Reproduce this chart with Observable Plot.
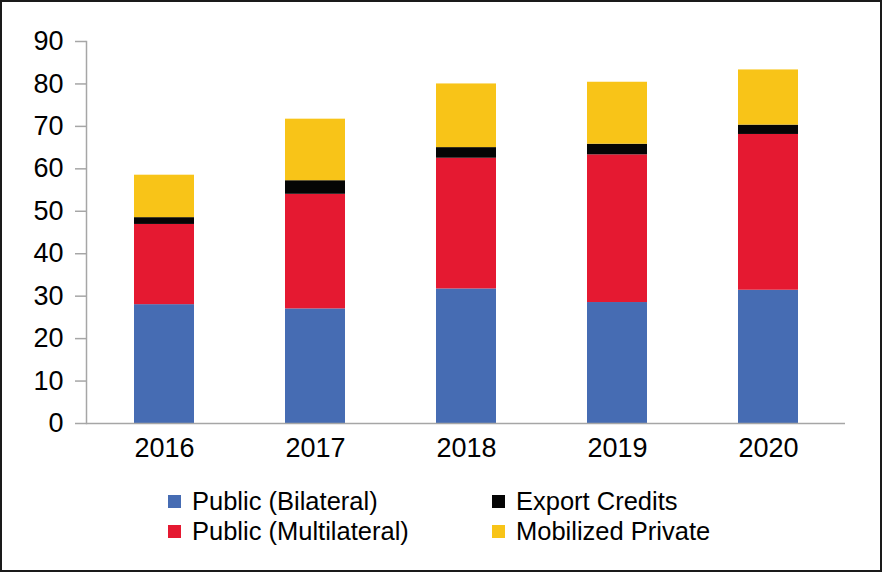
<!DOCTYPE html>
<html>
<head>
<meta charset="utf-8">
<script src="https://cdn.jsdelivr.net/npm/d3@7"></script>
<script src="https://cdn.jsdelivr.net/npm/@observablehq/plot@0.6"></script>
<style>
  html, body { margin: 0; padding: 0; background: #fff; }
  body { width: 886px; height: 577px; position: relative; overflow: hidden; font-family: "Liberation Sans", Arial, sans-serif; }
  #frame { position: absolute; left: 0; top: 0; width: 878px; height: 568px; border: 2px solid #1a1a1a; pointer-events: none; }
  #chart { position: absolute; left: 0; top: 0; }
  #legend { position: absolute; left: 168px; top: 486px; display: grid; grid-template-columns: 324px auto; row-gap: 0; font-size: 25.5px; line-height: 30px; color: #000; }
  .item { display: flex; align-items: center; white-space: nowrap; }
  .sw { width: 13px; height: 13px; margin-right: 11px; flex: none; }
</style>
</head>
<body>
<div id="chart"></div>
<div id="legend"></div>
<div id="frame"></div>
<script>
const years = ["2016", "2017", "2018", "2019", "2020"];
const seriesNames = ["Public (Bilateral)", "Public (Multilateral)", "Export Credits", "Mobilized Private"];
const bilateral    = [28.0, 27.0, 31.7, 28.5, 31.4];
const multilateral = [18.9, 27.0, 30.8, 34.8, 36.7];
const exportCredits = [1.6, 3.2, 2.5, 2.5, 2.2];
const mobilizedPrivate = [10.0, 14.5, 15.0, 14.6, 13.0];
const colors = ["#466cb3", "#e51931", "#050505", "#f8c418"];
const yTicks = [0, 10, 20, 30, 40, 50, 60, 70, 80, 90];
const legendOrder = [0, 2, 1, 3];

const seriesValues = [bilateral, multilateral, exportCredits, mobilizedPrivate];
const data = [];
seriesNames.forEach((s, si) => {
  years.forEach((y, yi) => data.push({year: y, series: s, value: seriesValues[si][yi]}));
});

const chart = Plot.plot({
  width: 886,
  height: 465,
  marginLeft: 86,
  marginRight: 41,
  marginTop: 41,
  marginBottom: 42,
  style: { fontFamily: "Liberation Sans, Arial, sans-serif", fontSize: "27px", color: "#000", background: "transparent" },
  x: { domain: years, paddingInner: 0.604, paddingOuter: 0.302, align: 0.5, label: null },
  y: { domain: [0, 90], label: null },
  color: { domain: seriesNames, range: colors },
  marks: [
    Plot.barY(data, { x: "year", y: "value", fill: "series", order: seriesNames, inset: 0 }),
    Plot.ruleY([0], { stroke: "#a6a6a6", strokeWidth: 1.5 }),
    Plot.frame({ anchor: "left", stroke: "#a6a6a6", strokeWidth: 1.5 }),
    Plot.axisY({ ticks: yTicks, tickSize: 11, tickPadding: 12, stroke: "#a6a6a6", strokeWidth: 1.5, fill: "#000", fontSize: 27, label: null }),
    Plot.axisX({ tickSize: 0, tickPadding: 14, fill: "#000", fontSize: 27, label: null })
  ]
});
document.getElementById("chart").appendChild(chart);

const legend = document.getElementById("legend");
legendOrder.forEach(i => {
  const item = document.createElement("div");
  item.className = "item";
  const sw = document.createElement("span");
  sw.className = "sw";
  sw.style.background = colors[i];
  const label = document.createElement("span");
  label.textContent = seriesNames[i];
  item.appendChild(sw);
  item.appendChild(label);
  legend.appendChild(item);
});
</script>
</body>
</html>
